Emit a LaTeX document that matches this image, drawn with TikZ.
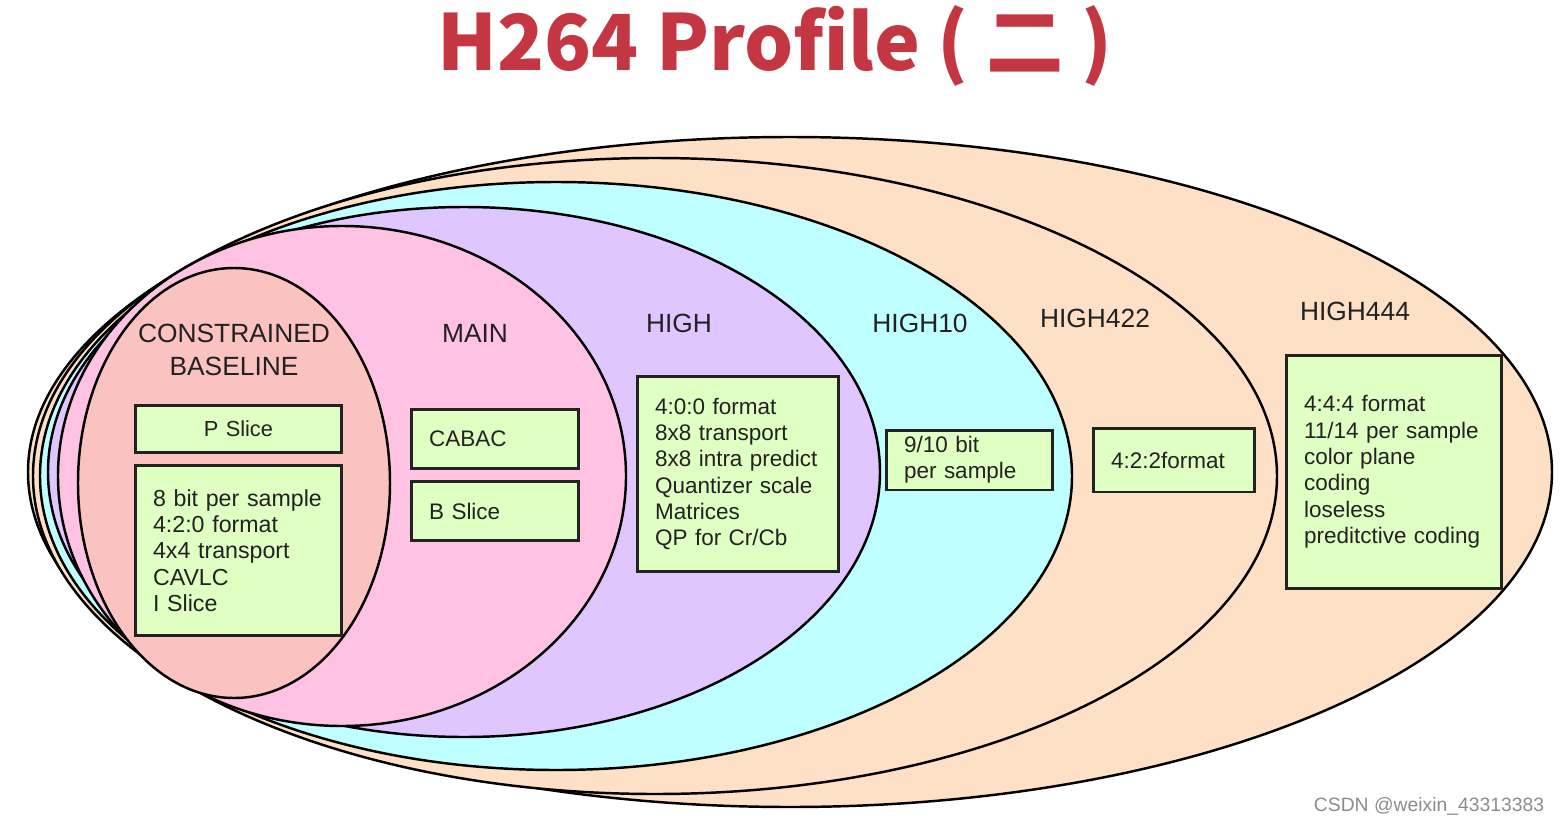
\documentclass[tikz,border=0pt]{standalone}
\usepackage{fontspec}
\setmainfont{Liberation Sans}
\newfontfamily\titlefont{Noto Sans CJK SC}
\usetikzlibrary{positioning}
\definecolor{TitleRed}{RGB}{196, 55, 66}
\definecolor{PeachFill}{RGB}{253, 224, 197}
\definecolor{CyanFill}{RGB}{192, 255, 255}
\definecolor{LilacFill}{RGB}{224, 198, 255}
\definecolor{PinkFill}{RGB}{255, 194, 226}
\definecolor{SalmonFill}{RGB}{250, 194, 192}
\definecolor{BoxGreen}{RGB}{224, 255, 194}
\definecolor{InkGray}{RGB}{34, 34, 34}

\begin{document}
\begin{tikzpicture}[x=0.02cm, y=-0.02cm,
  profile/.style={draw=black, line width=1.4pt},
  setname/.style={text=InkGray, font=\fontsize{15}{19}\selectfont, align=center},
  feat/.style={draw=InkGray, line width=1.7pt, fill=BoxGreen, text=InkGray,
    font=\fontsize{12.8}{15}\selectfont, align=left, inner xsep=0.36cm, inner ysep=0pt}]
  \useasboundingbox (0,0) rectangle (1560,825);

  % Title
  \node[text=TitleRed, font=\titlefont\bfseries\fontsize{44}{48}\selectfont] (title) at (775, 46) {H264 Profile ( 二 )};

  % Profile sets (outermost first)
  \draw[profile, fill=PeachFill]  (790, 472) ellipse (762 and 335);
  \draw[profile, fill=PeachFill]  (655, 476) ellipse (622 and 318);
  \draw[profile, fill=CyanFill]   (556, 476) ellipse (516 and 294);
  \draw[profile, fill=LilacFill]  (464, 472) ellipse (416 and 265);
  \draw[profile, fill=PinkFill]   (342, 476) ellipse (284 and 250);
  \draw[profile, fill=SalmonFill] (234, 483) ellipse (156 and 215);

  % Set names
  \node[setname, font=\fontsize{15}{18.7}\selectfont] (cbname) at (234, 350) {CONSTRAINED\\BASELINE};
  \node[setname] (mainname) at (475, 333) {MAIN};
  \node[setname] (highname) at (679, 323) {HIGH};
  \node[setname] (tenname) at (920, 323) {HIGH10};
  \node[setname] (twoname) at (1095, 318) {HIGH422};
  \node[setname] (fourname) at (1355, 311) {HIGH444};

  % Constrained baseline
  \node[feat, align=center, text width=3.42cm, minimum height=0.94cm, font=\fontsize{12.4}{15}\selectfont] (pslice) at (238.5, 429) {P Slice};
  \node[feat, text width=3.42cm, minimum height=3.4cm, font=\fontsize{13.2}{15}\selectfont, below=0.2cm of pslice] (cbfeat)
    {8 bit per sample\\4:2:0 format\\4x4 transport\\CAVLC\\I Slice};

  % Main
  \node[feat, text width=2.64cm, minimum height=1.18cm] (cabac) at (495, 439) {CABAC};
  \node[feat, text width=2.64cm, minimum height=1.18cm, below=0.2cm of cabac] (bslice) {B Slice};

  % High
  \node[feat, text width=3.32cm, minimum height=3.92cm] (highfeat) at (738, 474)
    {4:0:0 format\\8x8 transport\\8x8 intra predict\\Quantizer scale\\Matrices\\QP for Cr/Cb};

  % High10 / High422 / High444
  \node[feat, text width=2.62cm, minimum height=1.2cm] (tenfeat) at (969.5, 460) {9/10 bit\\per sample};
  \node[feat, text width=2.52cm, minimum height=1.28cm] (twofeat) at (1174, 460) {4:2:2format};
  \node[feat, text width=3.6cm, minimum height=4.68cm] (fourfeat) at (1394, 472)
    {4:4:4 format\\11/14 per sample\\color plane\\coding\\loseless\\preditctive coding};

  % Watermark
  \node[text=black!45, font=\fontsize{11}{13}\selectfont] (mark) at (1429, 806) {CSDN @weixin\_43313383};
\end{tikzpicture}
\end{document}
